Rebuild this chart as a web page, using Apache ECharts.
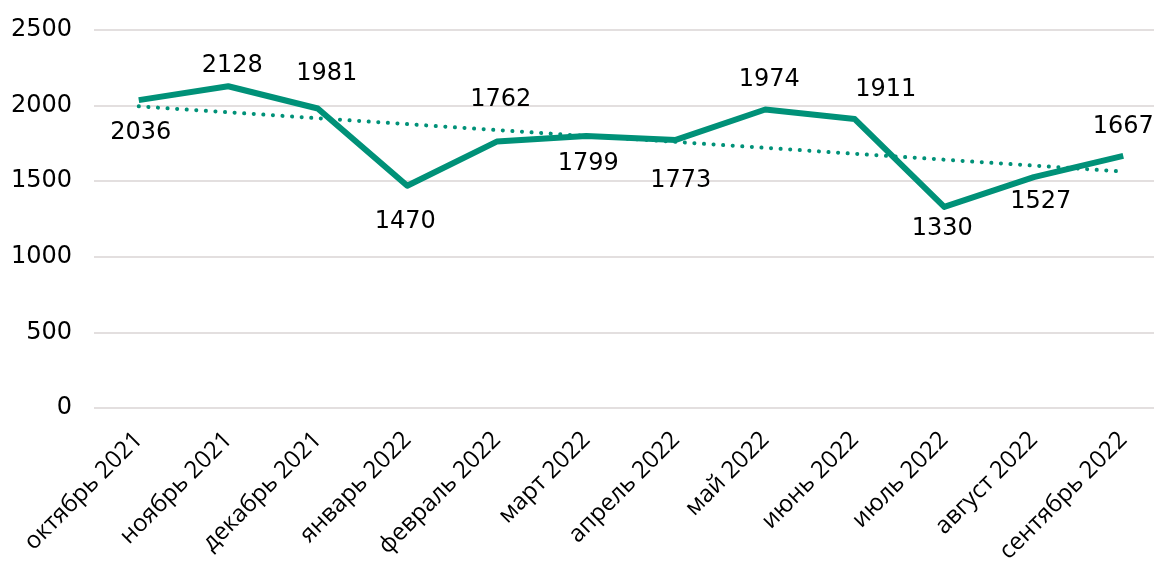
<!DOCTYPE html>
<html>
<head>
<meta charset="utf-8">
<script src="https://cdn.jsdelivr.net/npm/echarts@6/dist/echarts.min.js"></script>
<style>
    html, body { margin: 0; padding: 0; background: #fff; }
    #chart { width: 1154px; height: 567px; }
</style>
</head>
<body>
<div id="chart"></div>
<script>
// месяцы и значения
var months = ['октябрь 2021', 'ноябрь 2021', 'декабрь 2021', 'январь 2022', 'февраль 2022', 'март 2022',
    'апрель 2022', 'май 2022', 'июнь 2022', 'июль 2022', 'август 2022', 'сентябрь 2022']
var values = [2036, 2128, 1981, 1470, 1762, 1799, 1773, 1974, 1911, 1330, 1527, 1667]
// линия тренда (концы)
var trendStart = 1995
var trendEnd = 1564
var yTicks = [0, 500, 1000, 1500, 2000, 2500]

var green = '#009178'
var numFont = 'DejaVu Sans'

// где стоит подпись у каждой точки
var labelPlace = [
    ['bottom', [2, 6]], ['top', [4, 6]], ['top', [9, -8]], ['bottom', [-2, 10]],
    ['top', [4, -15]], ['bottom', [2, 1]], ['bottom', [5, 14]], ['top', [4, -3]],
    ['top', [31, -3]], ['bottom', [-2, -5]], ['bottom', [7, -2]], ['top', [0, -3]]
]

var chart = echarts.init(document.getElementById('chart'))

var lineData = values.map(function (v, i) {
    return {
        value: v,
        label: { position: labelPlace[i][0], offset: labelPlace[i][1] }
    }
})

chart.setOption({
    animation: false,
    grid: {
        left: 94,
        top: 30,
        width: 1074,
        height: 378,
        outerBoundsMode: 'none',
        containLabel: false
    },
    xAxis: {
        type: 'category',
        data: months,
        boundaryGap: true,
        axisLine: { show: false },
        axisTick: { show: false },
        axisLabel: {
            rotate: 45,
            margin: 28,
            interval: 0,
            fontSize: 24,
            color: '#000',
            fontFamily: 'Open Sans'
        }
    },
    yAxis: {
        type: 'value',
        min: yTicks[0],
        max: yTicks[yTicks.length - 1],
        interval: 500,
        axisLine: { show: false },
        axisTick: { show: false },
        splitLine: { lineStyle: { color: '#e3dfdf', width: 2 } },
        axisLabel: {
            margin: 22,
            fontSize: 24,
            color: '#000',
            fontFamily: numFont,
            formatter: function (v) { return String(v) }
        }
    },
    series: [
        {
            name: 'trend',
            type: 'line',
            data: [[0, trendStart], [months.length - 1, trendEnd]],
            symbol: 'none',
            lineStyle: { color: green, width: 4, type: [0.1, 9.5], cap: 'round' },
            z: 1
        },
        {
            name: 'value',
            type: 'line',
            data: lineData,
            symbol: 'circle',
            symbolSize: 1,
            showAllSymbol: true,
            itemStyle: { color: 'rgba(0,0,0,0)' },
            lineStyle: { color: green, width: 6, join: 'round' },
            label: {
                show: true,
                distance: 14,
                fontSize: 24,
                color: '#000',
                fontFamily: numFont
            },
            z: 2
        }
    ]
})
</script>
</body>
</html>
